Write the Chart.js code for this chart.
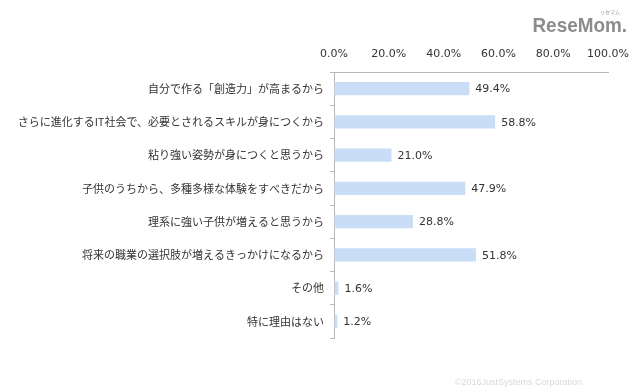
<!DOCTYPE html>
<html>
<head>
<meta charset="utf-8">
<script src="https://cdn.jsdelivr.net/npm/chart.js@4/dist/chart.umd.min.js"></script>
<style>
html,body{margin:0;padding:0;background:#fff;}
#wrap{position:relative;width:640px;height:389px;}
</style>
</head>
<body>
<div id="wrap"><canvas id="c" width="640" height="389"></canvas></div>
<script>
const categories = [
  "自分で作る「創造力」が高まるから",
  "さらに進化するIT社会で、必要とされるスキルが身につくから",
  "粘り強い姿勢が身につくと思うから",
  "子供のうちから、多種多様な体験をすべきだから",
  "理系に強い子供が増えると思うから",
  "将来の職業の選択肢が増えるきっかけになるから",
  "その他",
  "特に理由はない"
];
const values = [49.4, 58.8, 21.0, 47.9, 28.8, 51.8, 1.6, 1.2];
const xTicks = [0, 20, 40, 60, 80, 100];

const JP = '"Noto Sans CJK JP", "DejaVu Sans", sans-serif';
const NUM = '"DejaVu Sans", Verdana, sans-serif';

const valueLabels = {
  id: 'valueLabels',
  afterDatasetsDraw(chart) {
    const ctx = chart.ctx;
    const meta = chart.getDatasetMeta(0);
    ctx.save();
    ctx.font = '11px ' + NUM;
    ctx.fillStyle = '#333';
    ctx.textAlign = 'left';
    ctx.textBaseline = 'middle';
    meta.data.forEach((bar, i) => {
      ctx.fillText(values[i].toFixed(1) + '%', bar.x + 6, bar.y + 1);
    });
    ctx.restore();
  }
};

const decor = {
  id: 'decor',
  afterDraw(chart) {
    const ctx = chart.ctx;
    ctx.save();
    ctx.fillStyle = '#8c8c8c';
    ctx.font = 'bold 21px "Liberation Sans Narrow", "Liberation Sans", Arial, sans-serif';
    ctx.textAlign = 'right';
    ctx.textBaseline = 'alphabetic';
    ctx.translate(627, 32);
    ctx.scale(0.9, 1);
    ctx.fillText('ReseMom.', 0, 0);
    ctx.setTransform(1, 0, 0, 1, 0, 0);
    ctx.font = '5px ' + JP;
    ctx.fillText('リセマム', 620, 14);
    ctx.fillStyle = '#d9d9d9';
    ctx.font = '9px "Liberation Sans", Arial, sans-serif';
    ctx.fillText('©2016JustSystems Corporation', 582, 385);
    ctx.restore();
  }
};

new Chart(document.getElementById('c'), {
  type: 'bar',
  data: {
    labels: categories,
    datasets: [{
      data: values,
      backgroundColor: '#c9ddf6',
      borderWidth: 0,
      categoryPercentage: 1.0,
      barPercentage: 0.4
    }]
  },
  options: {
    indexAxis: 'y',
    responsive: false,
    animation: false,
    layout: { padding: { left: 0, right: 30, top: 0, bottom: 51 } },
    plugins: { legend: { display: false }, tooltip: { enabled: false } },
    scales: {
      x: {
        position: 'top',
        min: 0, max: 100,
        afterBuildTicks(scale) { scale.ticks = xTicks.map(v => ({ value: v })); },
        afterFit(scale) { scale.height = 72; },
        ticks: {
          padding: 11,
          color: '#333',
          font: { family: NUM, size: 11 },
          callback: v => Number(v).toFixed(1) + '%'
        },
        grid: { display: true, drawOnChartArea: false, drawTicks: false },
        border: { display: true, color: '#b8b8b8', width: 1 }
      },
      y: {
        afterFit(scale) { scale.width = 334; },
        ticks: {
          padding: 6,
          color: '#333',
          font: { family: JP, size: 11 }
        },
        grid: { display: true, drawOnChartArea: false, drawTicks: true, tickLength: 4, color: '#b8b8b8', offset: true },
        border: { display: true, color: '#b8b8b8', width: 1 }
      }
    }
  },
  plugins: [valueLabels, decor]
});
</script>
</body>
</html>
